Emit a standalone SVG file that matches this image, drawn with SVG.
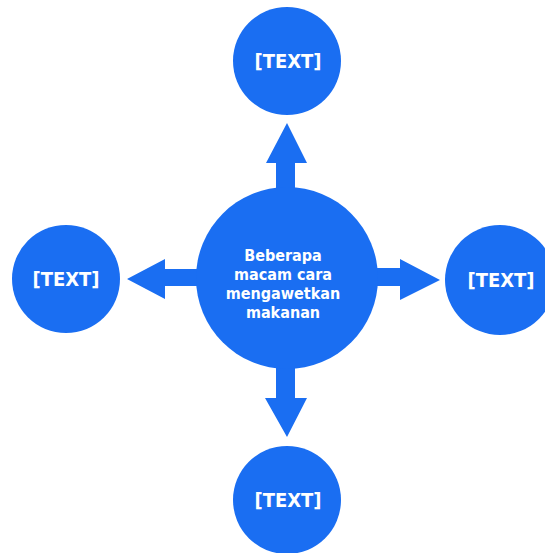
<svg xmlns="http://www.w3.org/2000/svg" width="545" height="553" viewBox="0 0 545 553">
<style>
.n{fill:#1A6EF2}
.a{fill:#1A6EF2}
.t{fill:#fff;font-family:"DejaVu Sans Condensed","DejaVu Sans",Verdana,sans-serif;font-stretch:condensed;font-weight:bold;text-anchor:middle}
.s{font-size:20px}
.c{font-size:16px}
</style>
<rect width="545" height="553" fill="#fff"/>
<g id="connectors">
<polygon class="a" points="276,195 276,163 266,163 287,123 307,163 295,163 295,195"/>
<polygon class="a" points="200,269 165,269 165,259 127,279 165,299 165,286 200,286"/>
<polygon class="a" points="374,268 400,268 400,259 440,280 400,300 400,286 374,286"/>
<polygon class="a" points="276,362 276,398 265,398 287,437 307,398 295,398 295,362"/>
</g>
<g id="center">
<circle class="n" cx="287" cy="278" r="91"/>
<text class="t c" x="283" y="261">Beberapa</text>
<text class="t c" x="283" y="280">macam cara</text>
<text class="t c" x="283" y="299">mengawetkan</text>
<text class="t c" x="283" y="318">makanan</text>
</g>
<g id="top">
<circle class="n" cx="287" cy="61" r="54"/>
<text class="t s" x="288" y="68">[TEXT]</text>
</g>
<g id="left">
<circle class="n" cx="66" cy="279" r="54"/>
<text class="t s" x="66" y="286">[TEXT]</text>
</g>
<g id="right">
<circle class="n" cx="500" cy="280" r="55"/>
<text class="t s" x="501" y="287">[TEXT]</text>
</g>
<g id="bottom">
<circle class="n" cx="287" cy="500" r="54"/>
<text class="t s" x="288" y="507">[TEXT]</text>
</g>
</svg>
